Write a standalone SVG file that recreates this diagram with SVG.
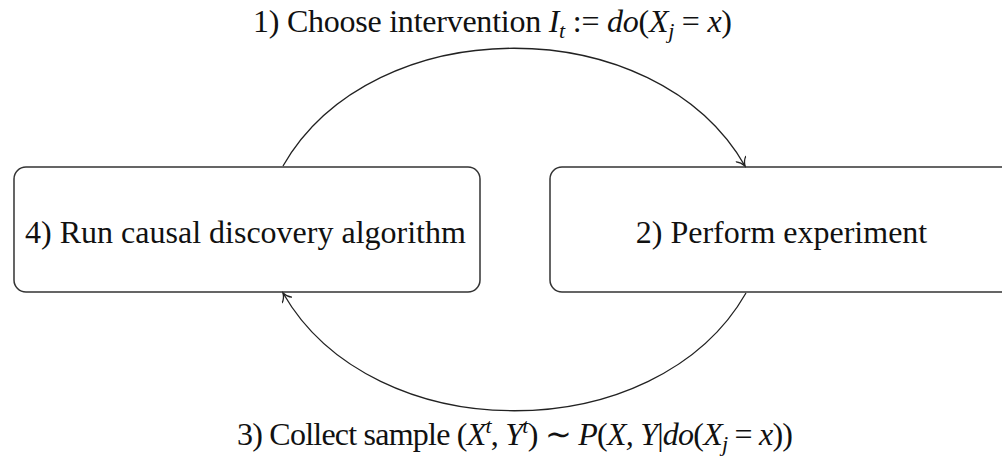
<svg xmlns="http://www.w3.org/2000/svg" width="1002" height="457" viewBox="0 0 1002 457">
<style>
.box{fill:#fff;stroke:#333;stroke-width:1.5}
.i{font-style:italic}
.s{font-size:22px}
.edge{fill:none;stroke:#222;stroke-width:1.3}
</style>
<defs>
<marker id="arr" viewBox="-10 -6 12 12" refX="0" refY="0" markerWidth="12" markerHeight="12" markerUnits="userSpaceOnUse" orient="auto">
<path d="M-8,-5.5 C-6,-2.5 -2,-0.6 0,0 C-2,0.6 -6,2.5 -8,5.5" fill="none" stroke="#222" stroke-width="1.3" stroke-linecap="round"/>
</marker>
</defs>
<rect width="1002" height="457" fill="#fff"/>
<g id="node4">
<rect class="box" x="14" y="167" width="466" height="125" rx="12"/>
<text font-family="Liberation Serif" font-size="32" fill="#111" x="245.5" y="243" text-anchor="middle">4) Run causal discovery algorithm</text>
</g>
<g id="node2">
<rect class="box" x="550" y="167" width="470" height="125" rx="12"/>
<text font-family="Liberation Serif" font-size="32" fill="#111" x="781.5" y="243" text-anchor="middle">2) Perform experiment</text>
</g>
<g id="connectors">
<path class="edge" d="M283,166 C373,9 655,9 745,166" marker-end="url(#arr)"/>
<path class="edge" d="M746,293 C656,450 373,450 283,293" marker-end="url(#arr)"/>
</g>
<g id="labels">
<text font-family="Liberation Serif" font-size="32" fill="#111" x="492.5" y="32" text-anchor="middle" textLength="479" lengthAdjust="spacing">1) Choose intervention <tspan class="i">I</tspan><tspan class="i s" dy="6">t</tspan><tspan dy="-6"> := </tspan><tspan class="i">do</tspan>(<tspan class="i">X</tspan><tspan class="i s" dy="6">j</tspan><tspan dy="-6"> = </tspan><tspan class="i">x</tspan>)</text>
<text font-family="Liberation Serif" font-size="32" fill="#111" x="515" y="445" text-anchor="middle" textLength="556" lengthAdjust="spacing">3) Collect sample (<tspan class="i">X</tspan><tspan class="i s" dy="-12">t</tspan><tspan dy="12">, </tspan><tspan class="i">Y</tspan><tspan class="i s" dy="-12">t</tspan><tspan dy="12">) ∼ </tspan><tspan class="i">P</tspan>(<tspan class="i">X, Y</tspan>|<tspan class="i">do</tspan>(<tspan class="i">X</tspan><tspan class="i s" dy="6">j</tspan><tspan dy="-6"> = </tspan><tspan class="i">x</tspan>))</text>
</g>
</svg>
